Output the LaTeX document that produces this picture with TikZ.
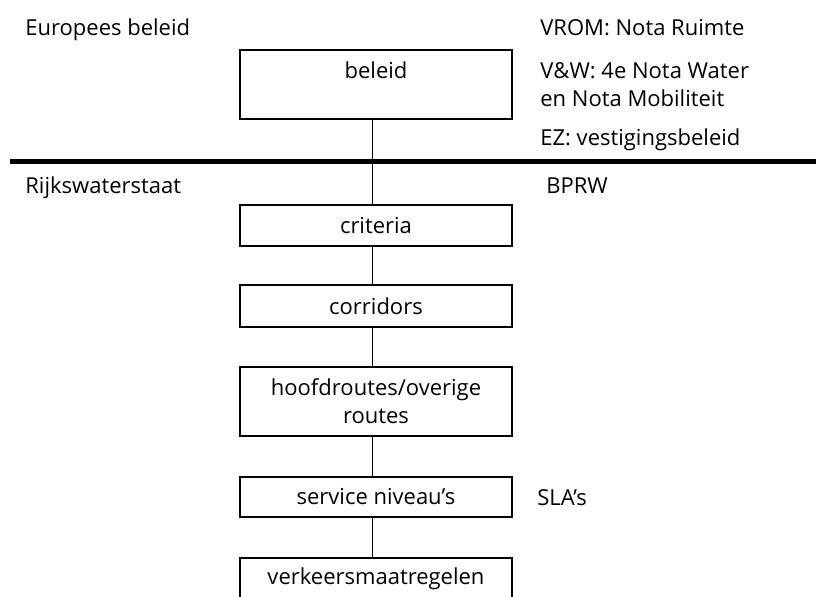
\documentclass[tikz,border=0pt]{standalone}
\usepackage{fontspec}
\setmainfont{Open Sans}
\begin{document}
\begin{tikzpicture}[x=0.5pt,y=-0.5pt,font=\fontsize{11}{14}\selectfont,
  stap/.style={draw,line width=1pt,minimum width=136pt,inner sep=2pt,align=center},
  tekst/.style={anchor=base west,inner sep=0pt,align=left},
  verbinding/.style={line width=0.5pt}]
  \clip (0,0) rectangle (816,596);
  % niveaus
  \node[tekst] (europa) at (25,35) {Europees beleid};
  \node[tekst] (rws) at (25,193) {Rijkswaterstaat};
  \coordinate (grensL) at (10,161.5); \coordinate (grensR) at (816,161.5);
  \draw[line width=2.5pt] (grensL)--(grensR);
  % keten
  \node[stap,minimum height=34.5pt] (beleid) at (376,84.5) {};
  \node[inner sep=0pt,anchor=base] (beleidtxt) at (376,78) {beleid};
  \node[stap,minimum height=20.5pt] (criteria) at (376,225.5) {criteria};
  \node[stap,minimum height=21pt] (corridors) at (376,306) {corridors};
  \node[stap,minimum height=34.5pt] (routes) at (376,401.5) {hoofdroutes/overige\\routes};
  \node[stap,minimum height=20pt] (service) at (376,497) {service niveau's};
  \node[stap,minimum height=21pt] (maatregel) at (376,579) {verkeersmaatregelen};
  \foreach \a/\b in {beleid/criteria,criteria/corridors,corridors/routes,routes/service,service/maatregel}
    \draw[verbinding] ([xshift=-2pt]\a.south)--([xshift=-2pt]\b.north);
  % rechterkolom
  \node[tekst] (vrom) at (540,35) {VROM: Nota Ruimte};
  \node[tekst] (vw) at (540,106) {V\&W: 4e Nota Water\\en Nota Mobiliteit};
  \node[tekst] (ez) at (540,145) {EZ: vestigingsbeleid};
  \node[tekst] (bprw) at (546,193) {BPRW};
  \node[tekst] (sla) at (537,505) {SLA's};
\end{tikzpicture}
\end{document}
